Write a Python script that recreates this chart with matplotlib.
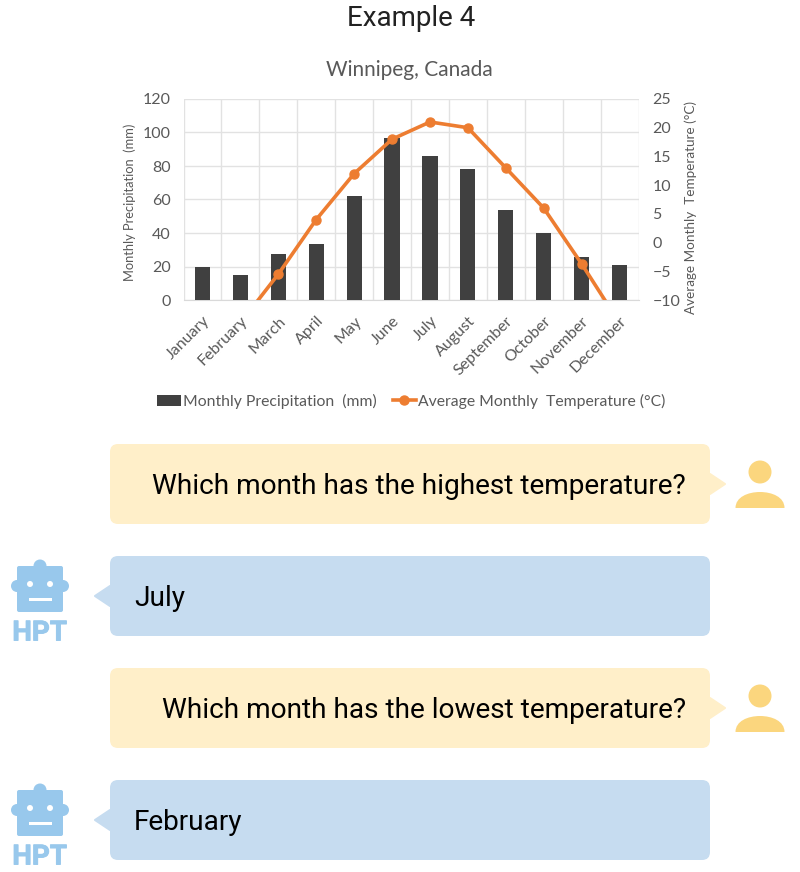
import matplotlib
matplotlib.use("Agg")
import matplotlib.pyplot as plt
import matplotlib.patheffects as pe
from matplotlib.patches import FancyBboxPatch, Polygon, Circle, Rectangle, PathPatch
from matplotlib.path import Path
from matplotlib.lines import Line2D

months = ["January", "February", "March", "April", "May", "June", "July",
          "August", "September", "October", "November", "December"]
precip = [19.5, 15, 27.5, 33.5, 62, 97, 86, 78, 54, 40, 25.5, 21]
temp = [-16, -14, -5.5, 4, 12, 18, 21, 20, 13, 6, -3.7, -14]
precip_ticks = [0, 20, 40, 60, 80, 100, 120]
temp_ticks = [-10, -5, 0, 5, 10, 15, 20, 25]
dialog = [("Which month has the highest temperature?", "July"),
          ("Which month has the lowest temperature?", "February")]

W, H = 800, 872
fig = plt.figure(figsize=(W / 100, H / 100), dpi=100, facecolor="white")
CF = ["Lato", "DejaVu Sans"]
GREY = "#595959"

# overlay in pixel coordinates
ov = fig.add_axes([0, 0, 1, 1])
ov.set_xlim(0, W); ov.set_ylim(H, 0); ov.axis("off")

ov.text(411, 18, "Example 4", ha="center", va="center", fontsize=20,
        family="Roboto", color="#222222")
ov.text(409, 70, "Winnipeg, Canada", ha="center", va="center", fontsize=15,
        family=CF, color=GREY)

YEL, YEL_D = "#FFEFC9", "#FBD67E"
BLU, BLU_D = "#C6DCF0", "#98C8EC"


def bubble(y, color):
    ov.add_patch(FancyBboxPatch((110 + 8, y + 8), 600 - 16, 80 - 16,
                                boxstyle="round,pad=8,rounding_size=8",
                                fc=color, ec="none"))


def user(y):
    ov.add_patch(Polygon([(710, y + 30), (725, y + 40), (710, y + 50)],
                         fc=YEL, ec=YEL, lw=1.5, joinstyle="round"))
    ov.add_patch(Circle((760, y + 28), 11.5, fc=YEL_D, ec="none"))
    verts = [(735.5, y + 64), (735.5, y + 53), (748, y + 48), (760, y + 48),
             (772, y + 48), (784.5, y + 53), (784.5, y + 64), (735.5, y + 64)]
    codes = [Path.MOVETO, Path.CURVE4, Path.CURVE4, Path.CURVE4,
             Path.CURVE4, Path.CURVE4, Path.CURVE4, Path.CLOSEPOLY]
    ov.add_patch(PathPatch(Path(verts, codes), fc=YEL_D, ec="none"))


def robot(y):
    ov.add_patch(Polygon([(110, y + 30), (95, y + 40), (110, y + 50)],
                         fc=BLU, ec=BLU, lw=1.5, joinstyle="round"))
    ov.add_patch(Circle((40, y + 10), 6.5, fc=BLU_D, ec="none"))
    ov.add_patch(Circle((17, y + 30), 6, fc=BLU_D, ec="none"))
    ov.add_patch(Circle((63, y + 30), 6, fc=BLU_D, ec="none"))
    ov.add_patch(FancyBboxPatch((19, y + 12), 42, 42, boxstyle="round,pad=2,rounding_size=2",
                                fc=BLU_D, ec="none"))
    ov.add_patch(Circle((30, y + 28), 3, fc="white", ec="none"))
    ov.add_patch(Circle((50, y + 28), 3, fc="white", ec="none"))
    ov.add_patch(Rectangle((28.5, y + 42), 23, 2.5, fc="white", ec="none"))
    t = ov.text(39.5, y + 77, "HPT", ha="center", va="center", fontsize=20,
                family="Roboto", weight="bold", color=BLU_D)
    t.set_path_effects([pe.withStroke(linewidth=0.6, foreground=BLU_D)])


y0s = [444, 668]
for (question, answer), y in zip(dialog, y0s):
    bubble(y, YEL)
    user(y)
    ov.text(686, y + 42, question, ha="right", va="center", fontsize=20.2,
            family="Roboto", color="black")
    bubble(y + 112, BLU)
    robot(y + 112)
    ov.text(134, y + 154, answer, ha="left", va="center", fontsize=20.2,
            family="Roboto", color="black")

# chart
L, R, T, B = 183.5, 638.5, 99, 300
ax = fig.add_axes([L / W, 1 - B / H, (R - L) / W, (B - T) / H])
ax.patch.set_alpha(0)
x = list(range(len(months)))
ax.bar(x, precip, width=0.4, color="#404040", zorder=3)
ax.set_xlim(-0.5, 11.5)
ax.set_ylim(0, 120)
ax.set_yticks(precip_ticks)
ax.set_xticks([i - 0.5 for i in range(13)], minor=True)
ax.set_xticks(x)
ax.set_xticklabels(months, rotation=45, ha="right", rotation_mode="anchor",
                   fontsize=11.5, family=CF, color=GREY)
ax.tick_params(axis="x", which="both", length=0, pad=10)
ax.tick_params(axis="y", length=0, pad=9, labelsize=11.5, labelcolor=GREY)
for t in ax.get_yticklabels():
    t.set_family(CF)
ax.grid(True, axis="y", color="#E2E2E2", lw=1, zorder=0)
ax.grid(True, axis="x", which="minor", color="#E2E2E2", lw=1, zorder=0)
ax.grid(False, axis="x", which="major")
ax.set_axisbelow(True)
for s in ax.spines.values():
    s.set_visible(False)
ax.spines["bottom"].set_visible(True)
ax.spines["bottom"].set_color("#D9D9D9")
ax.set_ylabel("Monthly Precipitation  (mm)", fontsize=9.3, family=CF, color=GREY)
ax.yaxis.set_label_coords((136 - L) / (R - L), (B - 202) / (B - T))

ax2 = ax.twinx()
ax2.patch.set_alpha(0)
ax2.plot(x, temp, color="#ED7D31", lw=2.6, marker="o", ms=6.5, zorder=5)
ax2.set_ylim(-10, 25)
ax2.set_yticks(temp_ticks)
ax2.tick_params(axis="y", length=0, pad=10, labelsize=11.5, labelcolor=GREY)
for t in ax2.get_yticklabels():
    t.set_family(CF)
for s in ax2.spines.values():
    s.set_visible(False)
ax2.set_ylabel("Average Monthly  Temperature (°C)", fontsize=9.7, family=CF, color=GREY)
ax2.yaxis.set_label_coords((684 - L) / (R - L), (B - 208) / (B - T))

handles = [Rectangle((0, 0), 1, 1, fc="#404040", ec="none"),
           Line2D([], [], color="#ED7D31", lw=2.6, marker="o", ms=6.5)]
fig.legend(handles, ["Monthly Precipitation  (mm)", "Average Monthly  Temperature (°C)"],
           loc="center", bbox_to_anchor=(411.5 / W, 1 - 401 / H), ncol=2, frameon=False,
           prop={"family": CF, "size": 11.3}, labelcolor=GREY, handlelength=1.5,
           handletextpad=0.15, columnspacing=1.0, borderpad=0)

fig.savefig("out.png", dpi=100)
